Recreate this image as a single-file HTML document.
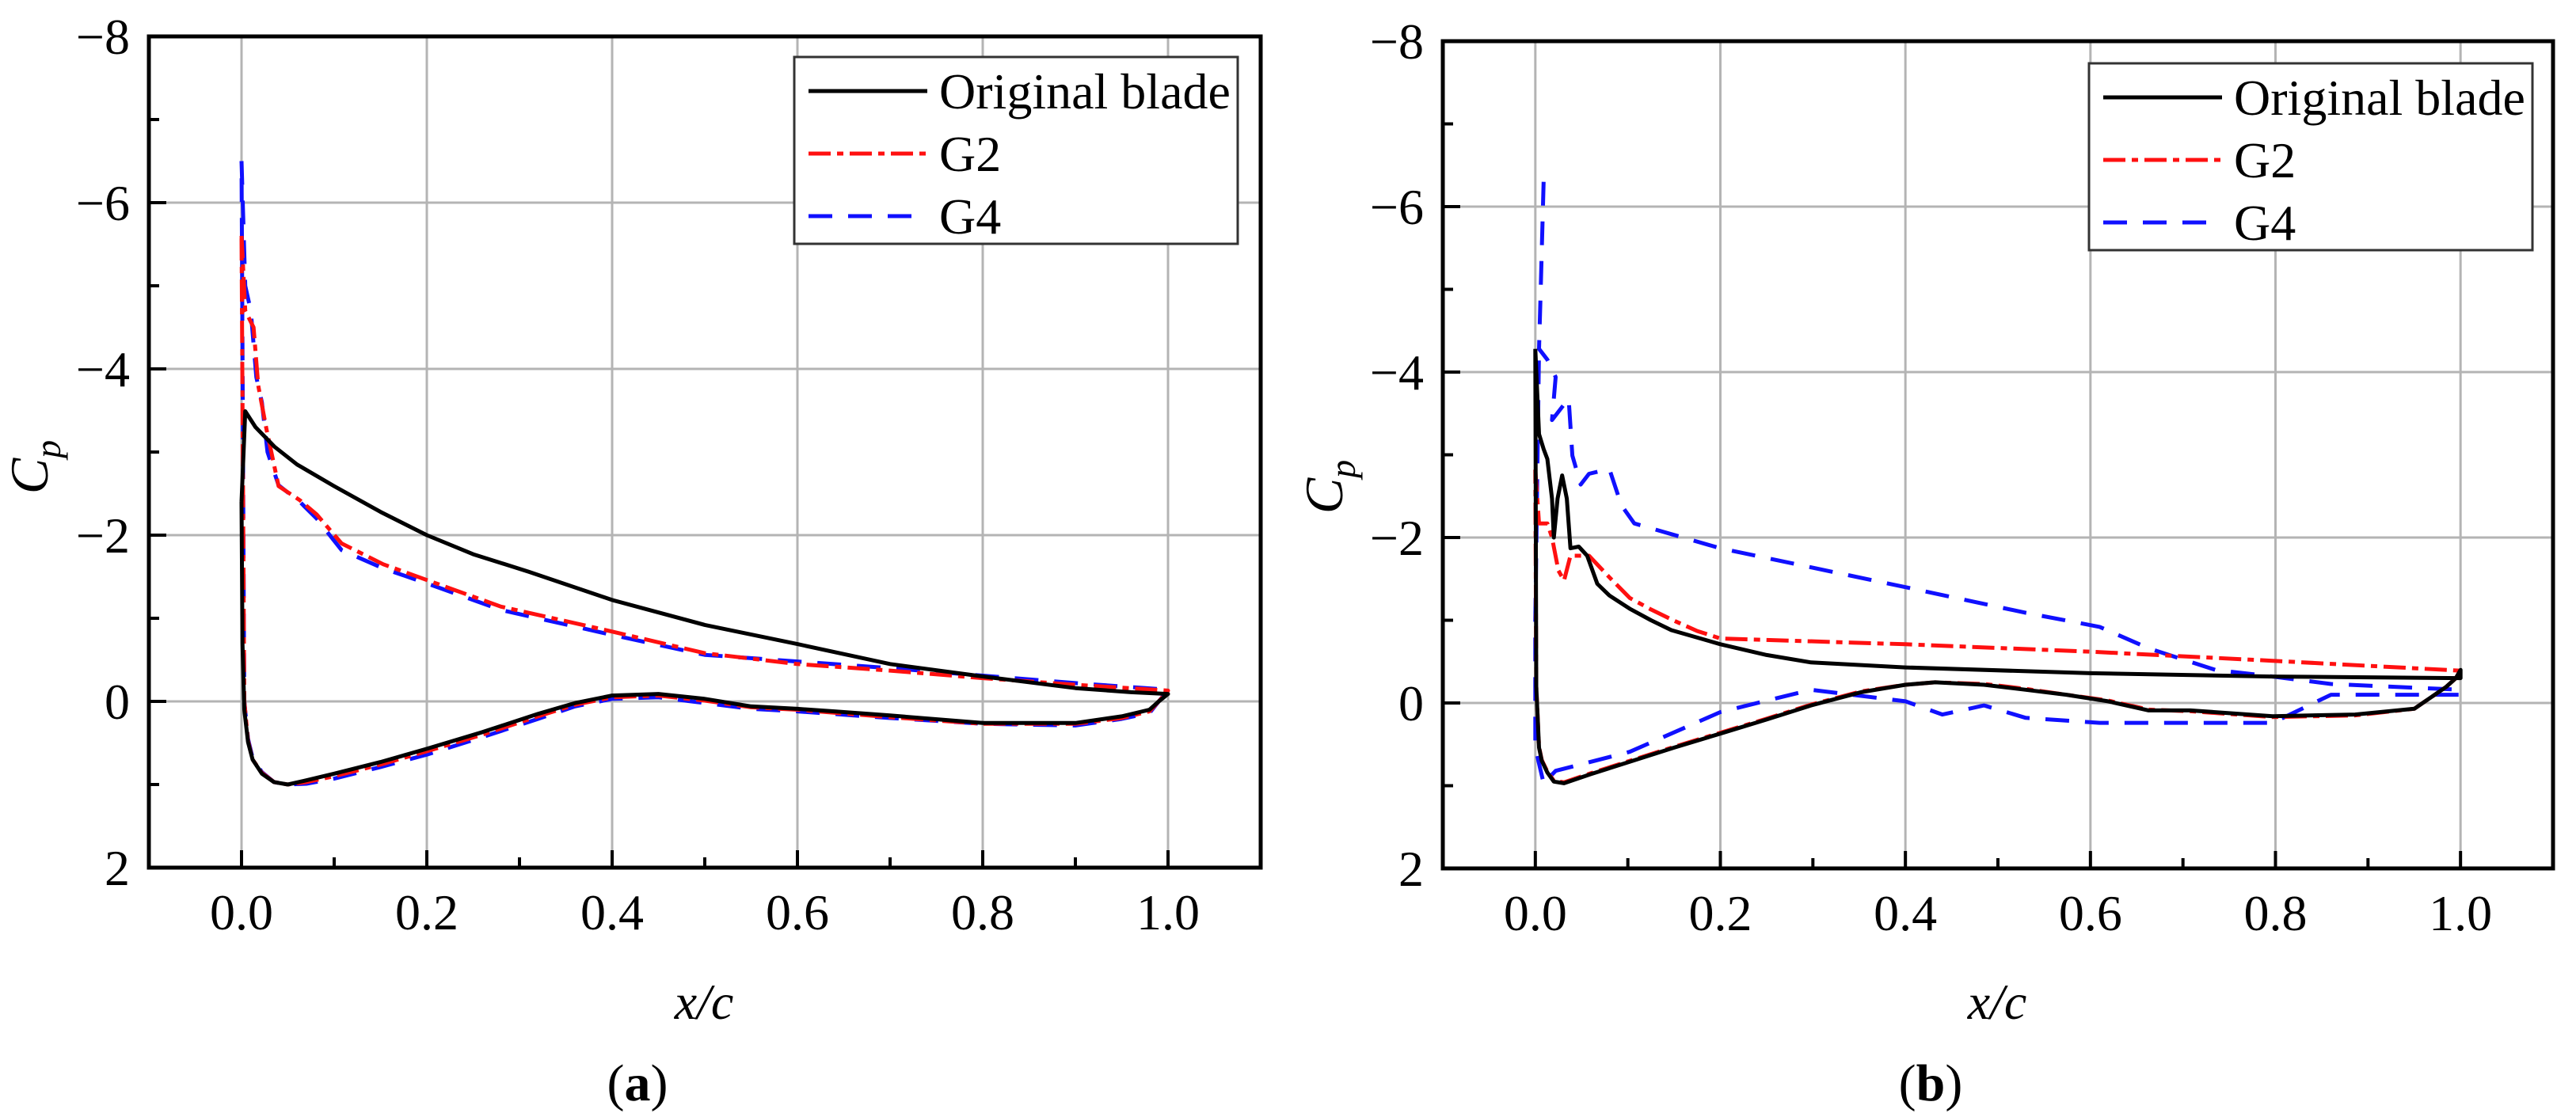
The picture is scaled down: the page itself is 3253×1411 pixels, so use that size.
<!DOCTYPE html>
<html><head><meta charset="utf-8"><style>
html,body{margin:0;padding:0;background:#fff;}
svg{display:block;font-family:"Liberation Serif","Times New Roman",serif;}
svg text{font-family:"Liberation Serif","Times New Roman",serif;fill:#000;}
</style></head><body>
<svg id="fig" width="3253" height="1411" viewBox="0 0 3253 1411" xmlns="http://www.w3.org/2000/svg" font-family="Liberation Serif, serif"></svg>
<script>
// ---- tick labels ----
const xTicks = [0.0, 0.2, 0.4, 0.6, 0.8, 1.0];
const xTickLabels = ["0.0","0.2","0.4","0.6","0.8","1.0"];
const yTicks = [-8,-6,-4,-2,0,2];
const yTickLabels = ["\u22128","\u22126","\u22124","\u22122","0","2"];
const seriesNames = ["Original blade","G2","G4"];

// ---- panel (a) data ----
const aOrigX = [0,0.004,0.015,0.036,0.06,0.1,0.15,0.2,0.25,0.31,0.4,0.5,0.6,0.7,0.8,0.9,0.96,1.0,0.99,0.98,0.95,0.9,0.8,0.7,0.64,0.6,0.55,0.5,0.45,0.4,0.36,0.32,0.26,0.2,0.15,0.1,0.07,0.05,0.035,0.022,0.012,0.007,0.003,0.001,0];
const aOrigY = [-2.4,-3.49,-3.3,-3.06,-2.85,-2.59,-2.28,-2.0,-1.77,-1.56,-1.22,-0.92,-0.69,-0.45,-0.30,-0.16,-0.11,-0.09,0.0,0.1,0.18,0.26,0.26,0.17,0.12,0.09,0.06,-0.03,-0.09,-0.07,0.02,0.15,0.37,0.57,0.73,0.87,0.95,1.0,0.97,0.87,0.7,0.49,0.1,-0.7,-2.4];
const aG2X = [0,0.004,0.013,0.018,0.027,0.04,0.063,0.081,0.108,0.153,0.2,0.28,0.4,0.5,0.6,0.7,0.8,0.9,1.0,0.99,0.98,0.95,0.9,0.8,0.7,0.6,0.55,0.5,0.45,0.4,0.36,0.32,0.26,0.2,0.15,0.1,0.07,0.05,0.035,0.022,0.012,0.007,0.003,0];
const aG2Y = [-5.6,-4.7,-4.5,-3.8,-3.27,-2.59,-2.42,-2.25,-1.9,-1.65,-1.46,-1.14,-0.84,-0.58,-0.45,-0.37,-0.28,-0.2,-0.13,0.0,0.12,0.2,0.27,0.27,0.19,0.1,0.07,-0.01,-0.07,-0.05,0.04,0.18,0.4,0.6,0.76,0.9,0.97,1.0,0.97,0.86,0.7,0.47,0.0,-5.6];
const aG4X = [0,0.004,0.01,0.016,0.022,0.028,0.04,0.063,0.081,0.108,0.153,0.2,0.28,0.4,0.5,0.6,0.7,0.8,0.9,1.0,0.99,0.98,0.95,0.9,0.8,0.7,0.6,0.55,0.5,0.45,0.4,0.36,0.32,0.26,0.2,0.15,0.1,0.07,0.05,0.035,0.022,0.012,0.007,0.003,0];
const aG4Y = [-6.5,-5.0,-4.7,-3.9,-3.6,-3.0,-2.6,-2.4,-2.2,-1.82,-1.6,-1.42,-1.1,-0.8,-0.56,-0.48,-0.4,-0.31,-0.22,-0.14,0.0,0.14,0.21,0.29,0.27,0.2,0.12,0.09,0.02,-0.05,-0.03,0.06,0.21,0.43,0.64,0.79,0.93,0.99,1.0,0.97,0.85,0.68,0.45,0.0,-6.5];

// ---- panel (b) data ----
const bOrigX = [0,0.004,0.009,0.013,0.018,0.02,0.024,0.029,0.034,0.038,0.047,0.056,0.067,0.08,0.102,0.125,0.147,0.175,0.2,0.25,0.298,0.4,0.6,0.797,1.0,1.0,0.995,0.984,0.95,0.886,0.797,0.708,0.663,0.619,0.574,0.53,0.485,0.432,0.4,0.352,0.298,0.25,0.2,0.15,0.102,0.06,0.031,0.02,0.013,0.007,0.004,0.001,0];
const bOrigY = [-4.28,-3.25,-3.07,-2.95,-2.47,-2.0,-2.47,-2.75,-2.47,-1.87,-1.89,-1.78,-1.44,-1.3,-1.14,-1.0,-0.88,-0.79,-0.71,-0.58,-0.49,-0.43,-0.36,-0.32,-0.30,-0.4,-0.3,-0.19,0.07,0.14,0.16,0.09,0.09,-0.02,-0.1,-0.16,-0.22,-0.25,-0.22,-0.13,0.03,0.2,0.37,0.54,0.71,0.86,0.97,0.95,0.84,0.7,0.54,-0.2,-4.28];
const bG2X = [0,0.004,0.013,0.018,0.025,0.031,0.038,0.058,0.08,0.102,0.125,0.147,0.175,0.2,0.4,0.6,0.797,1.0,1.0,0.995,0.984,0.95,0.886,0.797,0.708,0.663,0.619,0.574,0.53,0.485,0.432,0.4,0.352,0.298,0.25,0.2,0.15,0.102,0.06,0.031,0.02,0.013,0.007,0.004,0.001,0];
const bG2Y = [-2.82,-2.17,-2.17,-2.0,-1.6,-1.48,-1.78,-1.78,-1.52,-1.27,-1.13,-1.01,-0.87,-0.78,-0.71,-0.62,-0.51,-0.39,-0.4,-0.3,-0.19,0.07,0.15,0.17,0.1,0.08,-0.03,-0.1,-0.17,-0.23,-0.25,-0.22,-0.14,0.02,0.19,0.36,0.53,0.7,0.85,0.96,0.94,0.83,0.69,0.53,-0.2,-2.82];
const bG4X = [0.009,0.006,0.004,0.013,0.022,0.018,0.036,0.04,0.049,0.058,0.08,0.093,0.107,0.2,0.4,0.53,0.61,0.663,0.735,0.797,0.86,1.0,1.0,0.86,0.797,0.61,0.53,0.485,0.44,0.4,0.298,0.2,0.102,0.022,0.009,0,0,0.004];
const bG4Y = [-6.3,-5.06,-4.28,-4.15,-3.94,-3.42,-3.68,-2.99,-2.64,-2.77,-2.83,-2.39,-2.17,-1.87,-1.4,-1.09,-0.92,-0.66,-0.4,-0.32,-0.23,-0.16,-0.1,-0.1,0.24,0.24,0.18,0.03,0.14,-0.02,-0.16,0.11,0.59,0.82,0.97,0.54,-1.0,-4.28];

const NS = "http://www.w3.org/2000/svg";
const FONT = "Liberation Serif, serif";
const svg = document.getElementById("fig");
function mk(tag, attrs, parent){
  const e = document.createElementNS(NS, tag);
  for (const k in attrs) e.setAttribute(k, attrs[k]);
  if (tag === "text") e.setAttribute("font-family", FONT);
  (parent||svg).appendChild(e);
  return e;
}

function panel(cfg){
  const g = mk("g", {});
  
  
  const L=cfg.left, R=cfg.right, T=cfg.top, B=cfg.bottom;
  const sx = v => L + (v - (-0.1)) / 1.2 * (R - L);
  const sy = v => T + (v - (-8)) / 10 * (B - T);
  xTicks.forEach(v=>{
    const l = mk("line",{x1:sx(v),x2:sx(v),y1:T,y2:B,stroke:"#b4b4b4","stroke-width":3},g);
    
    
  });
  yTicks.forEach(v=>{
    const l = mk("line",{x1:L,x2:R,y1:sy(v),y2:sy(v),stroke:"#b4b4b4","stroke-width":3},g);
    
    
  });
  const series = [
    {x:cfg.g4x,y:cfg.g4y,c:"#1010ff",d:"30 20",n:"series-g4"},
    {x:cfg.g2x,y:cfg.g2y,c:"#ff1010",d:"28 8 8 8",n:"series-g2"},
    {x:cfg.ox,y:cfg.oy,c:"#000",d:"",n:"series-original-blade"}
  ];
  series.forEach(s=>{
    let d="";
    for(let i=0;i<s.x.length;i++) d += (i?"L":"M")+sx(s.x[i]).toFixed(1)+","+sy(s.y[i]).toFixed(1);
    const p = mk("path",{d:d,fill:"none",stroke:s.c,"stroke-width":5,"stroke-dasharray":s.d,"stroke-linejoin":"round"},g);
    
    
  });
  for(let v=0; v<=10; v++){
    const xv = v/10, major = v%2===0;
    const t = mk("line",{x1:sx(xv),x2:sx(xv),y1:B,y2:B-(major?22:13),stroke:"#000","stroke-width":4},g);
    
    
  }
  for(let v=-8; v<=2; v++){
    const major = v%2===0;
    const t = mk("line",{x1:L,x2:L+(major?22:13),y1:sy(v),y2:sy(v),stroke:"#000","stroke-width":4},g);
    
    
  }
  const f = mk("rect",{x:L,y:T,width:R-L,height:B-T,fill:"none",stroke:"#000","stroke-width":5},g);
  
  
  xTicks.forEach((v,i)=>{
    const t = mk("text",{x:sx(v),y:B+78,"text-anchor":"middle","font-size":64},g);
    t.textContent = xTickLabels[i];
    
    
  });
  yTicks.forEach((v,i)=>{
    const t = mk("text",{x:L-24,y:sy(v)+22,"text-anchor":"end","font-size":64},g);
    t.textContent = yTickLabels[i];
    
    
  });
  const xt = mk("text",{x:cfg.xtx,y:1287,"text-anchor":"middle","font-size":64,"font-style":"italic"},g);
  xt.textContent = "x/c";
  
  
  const yt = mk("text",{transform:`translate(${cfg.ytx},${cfg.yty}) rotate(-90)`,"text-anchor":"middle","font-size":68,"font-style":"italic"},g);
  yt.innerHTML = 'C<tspan font-size="46" dy="16">p</tspan>';
  
  
  const lg = mk("g",{},g);
  
  
  mk("rect",{x:cfg.lx,y:cfg.ly,width:560,height:236,fill:"#fff",stroke:"#333","stroke-width":3},lg);
  const styles=[["#000",""],["#ff1010","28 8 8 8"],["#1010ff","30 20"]];
  seriesNames.forEach((n,i)=>{
    const yy = cfg.ly+43+i*79;
    const e = mk("g",{},lg);
    
    
    mk("line",{x1:cfg.lx+18,x2:cfg.lx+168,y1:yy,y2:yy,stroke:styles[i][0],"stroke-width":5,"stroke-dasharray":styles[i][1]},e);
    const t = mk("text",{x:cfg.lx+183,y:yy+22,"font-size":64},e);
    t.textContent = n;
  });
  const pl = mk("text",{x:cfg.plx,y:1390,"text-anchor":"middle","font-size":66},g);
  pl.innerHTML = '(<tspan font-weight="bold">'+cfg.label+'</tspan>)';
  
  
}

panel({name:"panel-a",left:188,right:1592,top:46,bottom:1096,ox:aOrigX,oy:aOrigY,g2x:aG2X,g2y:aG2Y,g4x:aG4X,g4y:aG4Y,
  lx:1003,ly:72,xtx:889,ytx:60,yty:590,plx:805,label:"a"});
panel({name:"panel-b",left:1822,right:3224,top:52,bottom:1097,ox:bOrigX,oy:bOrigY,g2x:bG2X,g2y:bG2Y,g4x:bG4X,g4y:bG4Y,
  lx:2638,ly:80,xtx:2522,ytx:1695,yty:615,plx:2438,label:"b"});
</script>
</body></html>
